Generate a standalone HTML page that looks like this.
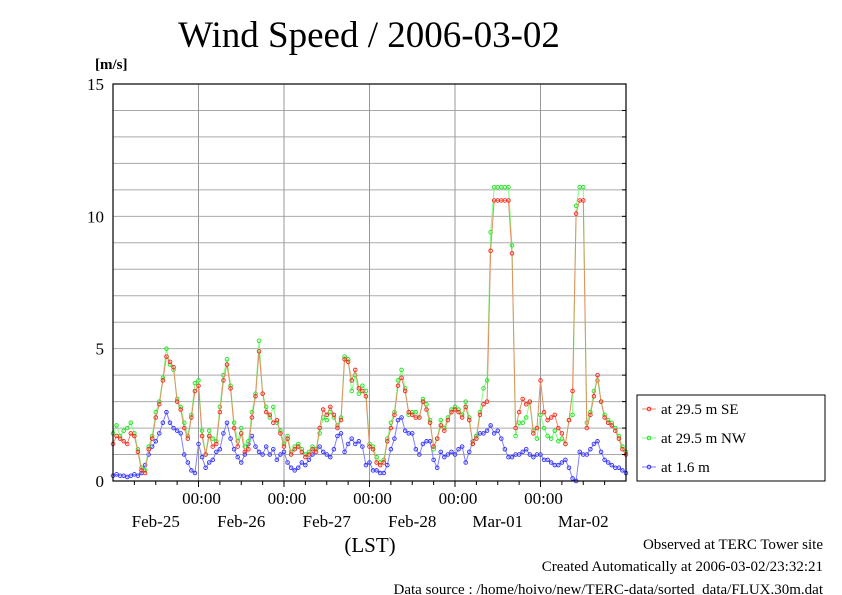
<!DOCTYPE html>
<html><head><meta charset="utf-8"><style>
body{margin:0;background:#fff;}
svg{display:block;font-family:"Liberation Serif",serif;}
</style></head><body>
<svg id="chart" width="842" height="595" viewBox="0 0 842 595" xmlns="http://www.w3.org/2000/svg">
<text x="369" y="47" font-size="37" text-anchor="middle">Wind Speed / 2006-03-02</text>
<text x="95" y="69" font-size="15" font-weight="bold">[m/s]</text>
<g id="grid"></g>
<g id="series"></g>
<rect x="113" y="84" width="513" height="397" fill="none" stroke="#000" stroke-width="1.2"/>
<g id="axes"></g>
<text x="370" y="552" font-size="21" text-anchor="middle">(LST)</text>
<text x="823" y="549" font-size="15" text-anchor="end">Observed at TERC Tower site</text>
<text x="823" y="571" font-size="15" text-anchor="end">Created Automatically at 2006-03-02/23:32:21</text>
<text x="823" y="594" font-size="15" text-anchor="end">Data source : /home/hoivo/new/TERC-data/sorted_data/FLUX.30m.dat</text>
<g>
<rect x="637" y="395" width="188" height="86" fill="#fff" stroke="#000"/>
<g id="legend-items"></g>
</g>
</svg>
<script>
const seriesSE = [1.4,1.7,1.6,1.5,1.4,1.8,1.7,1.1,0.4,0.3,1.2,1.6,2.4,2.9,3.8,4.7,4.5,4.3,3.0,2.7,2.0,1.6,2.4,3.4,
3.6,1.7,1.0,1.7,1.3,1.4,2.6,3.8,4.4,3.5,2.0,1.3,1.8,1.1,1.2,2.4,3.2,4.9,3.3,2.6,2.5,2.2,2.3,1.8,
1.3,1.6,1.0,1.2,1.3,1.1,0.9,1.0,1.2,1.1,2.0,2.7,2.5,2.8,2.5,2.0,2.3,4.6,4.5,3.8,4.2,3.5,3.4,3.2,
1.3,1.2,0.7,0.6,0.7,1.5,2.0,2.5,3.6,3.9,3.4,2.6,2.5,2.4,2.4,3.0,2.7,2.2,1.3,1.6,2.1,1.9,2.3,2.6,
2.7,2.6,2.4,2.8,2.3,1.4,1.6,2.5,2.9,3.0,8.7,10.6,10.6,10.6,10.6,10.6,8.6,2.0,2.6,3.1,2.9,3.0,1.8,2.0,
3.8,2.6,2.3,2.4,2.5,2.0,1.8,1.4,2.3,3.4,10.1,10.6,10.6,2.0,2.5,3.2,4.0,3.0,2.4,2.2,2.1,1.9,1.6,1.2,1.0];
const seriesNW = [1.8,2.1,1.7,1.9,2.0,2.2,1.8,1.2,0.5,0.4,1.3,1.7,2.6,3.0,3.9,5.0,4.4,4.2,3.1,2.8,2.2,1.7,2.5,3.7,
3.8,1.9,1.0,1.9,1.6,1.5,2.8,4.0,4.6,3.6,2.2,1.5,2.0,1.3,1.5,2.6,3.3,5.3,3.3,2.8,2.4,2.8,2.2,1.9,
1.4,1.7,1.1,1.3,1.4,1.2,1.0,1.1,1.3,1.2,1.8,2.4,2.3,2.6,2.4,2.1,2.4,4.7,4.6,3.4,4.0,3.3,3.6,3.4,
1.4,1.3,0.9,0.7,0.8,1.6,2.2,2.6,3.8,4.2,3.5,2.5,2.6,2.6,2.4,3.1,2.9,2.3,1.2,1.6,2.3,2.0,2.4,2.7,
2.8,2.7,2.5,3.0,2.4,1.4,1.7,2.6,3.5,3.8,9.4,11.1,11.1,11.1,11.1,11.1,8.9,1.7,2.2,2.2,2.4,3.0,1.9,1.6,
2.5,2.0,1.7,1.6,1.9,1.5,1.6,1.4,2.3,2.5,10.4,11.1,11.1,2.2,2.6,3.4,3.8,3.0,2.5,2.3,2.2,2.0,1.7,1.3,1.1];
const seriesLow = [0.2,0.25,0.2,0.2,0.15,0.2,0.25,0.2,0.3,0.6,1.0,1.3,1.5,1.8,2.2,2.6,2.2,2.0,1.9,1.8,1.0,0.7,0.4,0.3,
1.4,0.9,0.5,0.7,0.8,1.1,1.2,1.8,2.2,1.6,1.2,0.9,0.7,1.0,1.4,1.7,1.3,1.1,1.0,1.3,1.0,1.2,0.8,1.0,
1.1,0.7,0.5,0.4,0.5,0.7,0.6,0.8,1.0,1.2,1.3,1.1,1.0,0.9,1.2,1.7,1.8,1.1,1.4,1.6,1.4,1.5,1.3,0.6,
0.7,0.4,0.4,0.3,0.3,0.6,1.2,1.6,2.3,2.4,1.9,1.8,1.8,1.2,1.0,1.4,1.5,1.5,0.8,0.5,1.1,0.9,1.0,1.1,
1.0,1.2,1.3,0.7,1.1,1.5,1.7,1.8,1.8,1.9,2.1,1.8,1.9,1.6,1.2,0.9,0.9,1.0,1.0,1.1,1.2,1.0,0.9,1.0,
1.0,0.8,0.8,0.7,0.6,0.6,0.7,0.8,0.5,0.1,0.0,1.1,1.0,1.0,1.2,1.4,1.5,1.1,0.8,0.7,0.6,0.5,0.5,0.4,0.3];
const yTicks = [0,5,10,15];
const hourLabels = ["00:00","00:00","00:00","00:00","00:00"];
const dayLabels = ["Feb-25","Feb-26","Feb-27","Feb-28","Mar-01","Mar-02"];
const legendLabels = ["at 29.5 m SE","at 29.5 m NW","at 1.6 m"];

const NS="http://www.w3.org/2000/svg";
const X0=113,X1=626,Y0=481,Y1=84,HOURS=144,YMAX=15;
const xs=h=>X0+h*(X1-X0)/HOURS;
const ys=v=>Y0-v*(Y0-Y1)/YMAX;
function mk(tag,attrs,parent){const e=document.createElementNS(NS,tag);for(const k in attrs)e.setAttribute(k,attrs[k]);parent.appendChild(e);return e;}
const grid=document.getElementById('grid'),axes=document.getElementById('axes'),ser=document.getElementById('series');
for(let v=1;v<YMAX;v++){const l=mk('line',{x1:X0,x2:X1,y1:ys(v),y2:ys(v),stroke:'#aaa','stroke-width':1},grid);


const t=mk('line',{x1:X1-4,x2:X1,y1:ys(v),y2:ys(v),stroke:'#000'},axes);

}
yTicks.forEach(v=>{const t=mk('text',{x:104,y:ys(v)+6,'font-size':17,'text-anchor':'end'},axes);t.textContent=v;

});
for(let d=1;d<=5;d++){const x=xs(d*24);const l=mk('line',{x1:x,x2:x,y1:Y1,y2:Y0,stroke:'#999'},grid);

}
for(let h=6;h<HOURS;h+=6){const x=xs(h);const len=h%24===0?6:4;const t=mk('line',{x1:x,x2:x,y1:Y0,y2:Y0+len,stroke:'#000'},axes);

}
hourLabels.forEach((s,i)=>{const t=mk('text',{x:xs((i+1)*24)+3,y:504,'font-size':17,'text-anchor':'middle'},axes);t.textContent=s;

});
dayLabels.forEach((s,i)=>{const t=mk('text',{x:xs(i*24+12),y:527,'font-size':17,'text-anchor':'middle'},axes);t.textContent=s;

});
function drawSeries(data,line,mark,name){
  const g=mk('g',{},ser);
  
  
  const p=mk('polyline',{points:data.map((v,i)=>xs(i)+','+ys(v)).join(' '),fill:'none',stroke:line,'stroke-width':1},g);
  
  
  data.forEach((v,i)=>{const c=mk('circle',{cx:xs(i),cy:ys(v),r:1.8,fill:'none',stroke:mark,'stroke-width':0.9},g);
  
  });
}
drawSeries(seriesLow,'#8080ff','#3030ff','series-1-6m');
drawSeries(seriesNW,'#80ff80','#20e020','series-29-5m-nw');
drawSeries(seriesSE,'#e09060','#ff2020','series-29-5m-se');
const li=document.getElementById('legend-items');
const lc=[['#e09060','#ff2020'],['#80ff80','#20e020'],['#8080ff','#3030ff']];
legendLabels.forEach((s,i)=>{const y=409+i*29;
const g=mk('g',{},li);


mk('line',{x1:642,x2:656,y1:y,y2:y,stroke:lc[i][0]},g);
mk('circle',{cx:649,cy:y,r:1.8,fill:'none',stroke:lc[i][1]},g);
const t=mk('text',{x:661,y:y+5,'font-size':15},g);t.textContent=s;});
</script>
</body></html>
